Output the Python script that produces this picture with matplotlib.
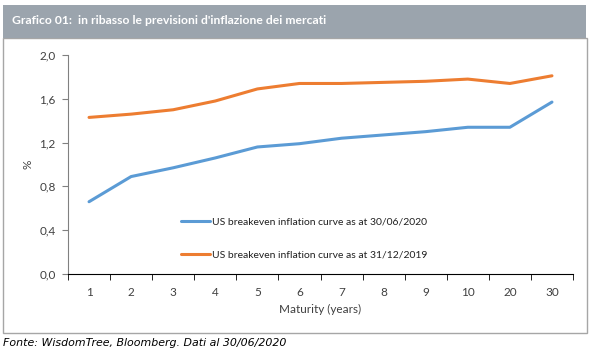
import matplotlib
matplotlib.use("Agg")
import matplotlib.pyplot as plt
from matplotlib.patches import Rectangle

# dati
maturity = ["1", "2", "3", "4", "5", "6", "7", "8", "9", "10", "20", "30"]
curve_2020 = [0.66, 0.89, 0.97, 1.06, 1.16, 1.19, 1.24, 1.27, 1.30, 1.34, 1.34, 1.57]
curve_2019 = [1.43, 1.46, 1.50, 1.58, 1.69, 1.74, 1.74, 1.75, 1.76, 1.78, 1.74, 1.81]
y_ticks = [0.0, 0.4, 0.8, 1.2, 1.6, 2.0]
y_labels = ["0,0", "0,4", "0,8", "1,2", "1,6", "2,0"]

plt.rcParams['font.family'] = ['Lato', 'DejaVu Sans']

W, H = 592, 353
fig = plt.figure(figsize=(W / 100, H / 100), dpi=100)

# cornice e barra del titolo
fig.patches.append(Rectangle((3 / W, 1 - 333 / H), 584 / W, 295 / H, transform=fig.transFigure,
                             facecolor="white", edgecolor="#a6a6a6", lw=1.0, zorder=-10))
fig.patches.append(Rectangle((3 / W, 1 - 38 / H), 583 / W, 33 / H, transform=fig.transFigure,
                             facecolor="#9ba4ad", edgecolor="none", zorder=-10))
fig.text(12 / W, 1 - 21 / H, "Grafico 01:  in ribasso le previsioni d'inflazione dei mercati",
         color="white", fontsize=8.7, fontweight="bold", va="center", ha="left")

ax = fig.add_axes([68 / W, 1 - 274 / H, 505 / W, 219 / H])
ax.patch.set_visible(False)
x = list(range(len(maturity)))
ax.plot(x, curve_2020, color="#5b9bd5", lw=2.2, solid_capstyle="round",
        label="US breakeven inflation curve as at 30/06/2020")
ax.plot(x, curve_2019, color="#ed7d31", lw=2.2, solid_capstyle="round",
        label="US breakeven inflation curve as at 31/12/2019")

ax.set_xlim(-0.5, len(maturity) - 0.5)
ax.set_ylim(0, 2.0)
ax.set_yticks(y_ticks)
ax.set_yticklabels(y_labels)
ax.set_xticks(x)
ax.set_xticklabels(maturity)
ax.set_xticks([i - 0.5 for i in range(len(maturity) + 1)], minor=True)
ax.tick_params(axis="x", which="major", length=0, pad=9, labelsize=8.5, colors="#404040")
ax.tick_params(axis="x", which="minor", length=4, direction="out", color="black")
ax.tick_params(axis="y", length=4, direction="out", color="#808080", labelsize=8.5,
               labelcolor="#404040", pad=5)
for s in ["top", "right"]:
    ax.spines[s].set_visible(False)
ax.spines["left"].set_color("#808080")
ax.spines["bottom"].set_color("black")

ax.set_ylabel("%", fontsize=8.5, color="#404040", labelpad=4)
ax.set_xlabel("Maturity (years)", fontsize=8.5, color="#404040", labelpad=5)

ax.legend(loc="upper left", bbox_to_anchor=(104 / 505, 66 / 219), frameon=False,
          fontsize=7.5, handlelength=2.7, handletextpad=0.25, labelspacing=2.3,
          labelcolor="#202020")

fig.text(3 / W, 1 - 343 / H, "Fonte: WisdomTree, Bloomberg. Dati al 30/06/2020",
         fontsize=7.9, style="italic", va="center", ha="left", color="black",
         family="DejaVu Sans")

fig.savefig("out.png", dpi=100)
